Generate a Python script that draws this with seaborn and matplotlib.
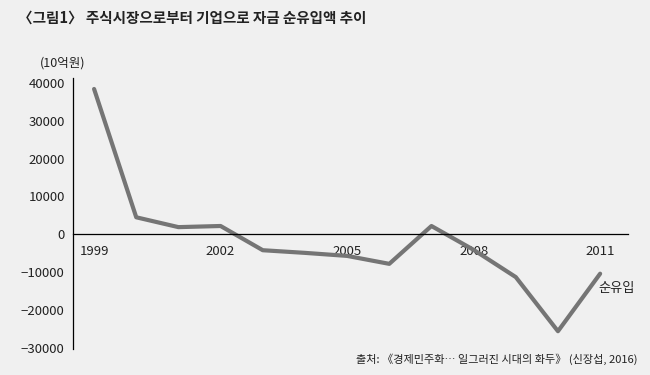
import pandas as pd
import matplotlib.pyplot as plt
import seaborn as sns

# --- 데이터 (10억원) ---
years = [1999, 2000, 2001, 2002, 2003, 2004, 2005, 2006, 2007, 2008, 2009, 2010, 2011]
net_inflow = [38400, 4500, 1900, 2200, -4200, -4900, -5700, -7800, 2200, -4100, -11300, -25600, -10400]
year_ticks = [1999, 2002, 2005, 2008, 2011]
y_ticks = [40000, 30000, 20000, 10000, 0, -10000, -20000, -30000]

TITLE = "〈그림1〉 주식시장으로부터 기업으로 자금 순유입액 추이"
UNIT = "(10억원)"
SERIES = "순유입"
SOURCE = "출처: 《경제민주화… 일그러진 시대의 화두》 (신장섭, 2016)"

BG = "#f0f0f0"
LINE = "#757575"


def main():
    sns.set_theme(style="white", rc={"figure.facecolor": BG, "axes.facecolor": BG})
    plt.rcParams['font.family'] = ['Noto Sans CJK KR', 'DejaVu Sans']
    plt.rcParams['axes.unicode_minus'] = False

    df = pd.DataFrame({"year": years, "value": net_inflow})

    fig = plt.figure(figsize=(6.5, 3.75), dpi=100)
    ax = fig.add_axes([0.1123, 0.0693, 0.8538, 0.7227])

    sns.lineplot(data=df, x="year", y="value", color=LINE, linewidth=3.0, ax=ax)

    ax.set_xlim(1998.50, 2011.66)
    ax.set_ylim(-30300, 41300)

    # 축 스타일
    for s in ["top", "right"]:
        ax.spines[s].set_visible(False)
    ax.spines["left"].set_color("black")
    ax.spines["left"].set_linewidth(0.9)
    ax.spines["bottom"].set_position(("data", 0))
    ax.spines["bottom"].set_color("black")
    ax.spines["bottom"].set_linewidth(0.9)

    ax.set_xticks(year_ticks)
    ax.set_xticklabels([str(y) for y in year_ticks])
    ax.set_yticks(y_ticks)
    ax.set_yticklabels(["\u2212" + str(-v) if v < 0 else str(v) for v in y_ticks])
    ax.tick_params(axis="x", length=0, pad=8, labelsize=9.5, colors="#222222")
    ax.tick_params(axis="y", length=0, pad=6, labelsize=9.5, colors="#222222")
    ax.set_xlabel("")
    ax.set_ylabel("")

    # 텍스트
    fig.text(18 / 650, 1 - 18 / 375, TITLE, fontsize=10.5, fontweight="bold",
             ha="left", va="center", color="#222222")
    fig.text(40 / 650, 1 - 63 / 375, UNIT, fontsize=9, ha="left", va="center", color="#222222")
    ax.text(2010.95, -14400, SERIES, fontsize=9.5, ha="left", va="center", color="#222222")
    fig.text(638 / 650, 1 - 359 / 375, SOURCE, fontsize=8, ha="right", va="center", color="#222222")

    fig.savefig("out.png", dpi=100, facecolor=BG)
    plt.close(fig)


if __name__ == "__main__":
    main()
